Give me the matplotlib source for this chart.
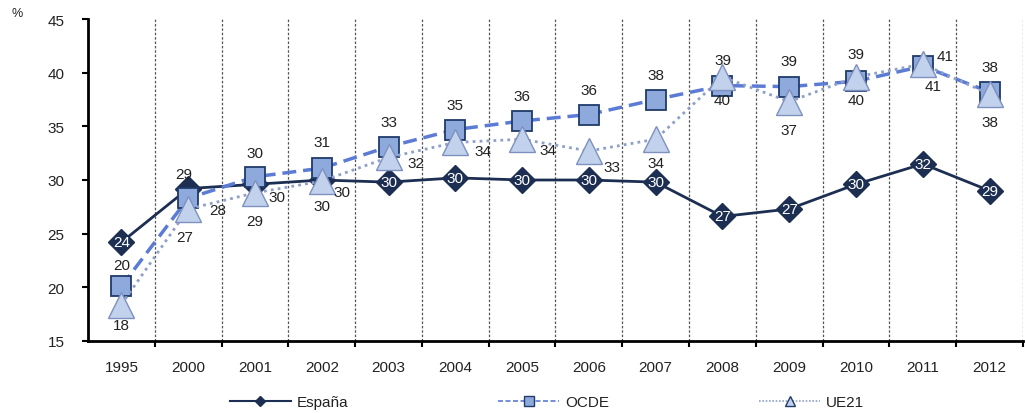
import matplotlib
matplotlib.use("Agg")
import matplotlib.pyplot as plt
from matplotlib.lines import Line2D

plt.rcParams['font.family'] = ['Liberation Sans', 'DejaVu Sans']

years = ['1995', '2000', '2001', '2002', '2003', '2004', '2005', '2006',
         '2007', '2008', '2009', '2010', '2011', '2012']
espana = [24.2, 29.2, 29.6, 30.0, 29.8, 30.2, 30.0, 30.0, 29.8, 26.6, 27.3, 29.6, 31.5, 29.0]
ocde = [20.1, 28.3, 30.3, 31.1, 33.1, 34.7, 35.5, 36.1, 37.5, 38.8, 38.7, 39.2, 40.6, 38.2]
ue21 = [18.4, 27.3, 28.8, 29.9, 32.1, 33.5, 33.8, 32.7, 33.8, 39.6, 37.3, 39.6, 40.8, 38.0]

# label offsets in pixels (dx, dy); None = centred white text inside the marker
esp_off = [None, (-4, 15), (22, -13), (20, -12), None, None, None, None,
           None, None, None, None, None, None]
ocde_off = [(0, 21), (30, -12), (0, 24), (0, 26), (0, 25), (0, 25), (0, 25), (0, 25),
            (0, 25), (0, 26), (0, 26), (0, 27), (10, -20), (0, 25)]
ue21_off = [(0, -20), (-3, -28), (0, -28), (0, -25), (27, -6), (28, -9), (26, -11), (23, -16),
            (0, -24), (0, -23), (0, -28), (0, -23), (22, 8), (0, -28)]

navy = '#1c2f52'
txt = '#222222'
fs = 11
x = list(range(len(years)))

fig = plt.figure(figsize=(10.25, 4.14), dpi=100)
ax = fig.add_axes([88 / 1025, 1 - 342 / 414, (1023 - 88) / 1025, (342 - 20) / 414])

ax.plot(x, espana, color=navy, lw=2, marker='D', ms=13, mfc=navy, mec=navy, zorder=3)
ax.plot(x, ocde, color='#5b7bd5', lw=2.5, ls=(0, (4, 2)), marker='s', ms=15,
        mfc='#8eaadc', mec='#1f3a6b', mew=1.3, zorder=4)
ax.plot(x, ue21, color='#8e9fc9', lw=2, ls=(0, (1, 1.5)), marker='^', ms=19,
        mfc='#c3d2ec', mec='#7d90bf', mew=1, zorder=5)

k = 0.72
for xi, v, off in zip(x, espana, esp_off):
    if off is None:
        ax.annotate(f'{round(v)}', (xi, v), ha='center', va='center', color='white',
                    fontsize=fs, zorder=6)
    else:
        ax.annotate(f'{round(v)}', (xi, v), xytext=(off[0] * k, off[1] * k),
                    textcoords='offset points', ha='center', va='center',
                    color=txt, fontsize=fs, zorder=6)
for series, offs in ((ocde, ocde_off), (ue21, ue21_off)):
    for xi, v, off in zip(x, series, offs):
        ax.annotate(f'{round(v)}', (xi, v), xytext=(off[0] * k, off[1] * k),
                    textcoords='offset points', ha='center', va='center',
                    color=txt, fontsize=fs, zorder=6)

ax.set_xlim(-0.5, len(years) - 0.5)
ax.set_ylim(15, 45)
ax.set_yticks(range(15, 50, 5))
ax.set_xticks(x)
ax.set_xticklabels(years)
ax.set_xticks([i + 0.5 for i in range(len(years))], minor=True)
ax.tick_params(axis='x', which='major', length=0, pad=14, labelsize=fs, labelcolor=txt)
ax.tick_params(axis='x', which='minor', length=4, width=1.5, direction='out')
ax.tick_params(axis='y', length=4, width=1.5, direction='out', pad=13, labelsize=fs,
               labelcolor=txt)
for xb in range(len(years)):
    ax.axvline(xb + 0.5, color='#555555', lw=0.9, ls=(0, (2, 1.5)), zorder=1)

for s in ('top', 'right'):
    ax.spines[s].set_visible(False)
ax.spines['left'].set_linewidth(2)
ax.spines['bottom'].set_linewidth(2)

fig.text(12 / 1025, 1 - 14 / 414, '%', fontsize=9, va='center', color=txt)

handles = [
    Line2D([], [], color=navy, lw=1.5, marker='D', ms=5, mfc=navy, mec=navy),
    Line2D([], [], color='#5b7bd5', lw=1.2, ls=(0, (3, 1.5)), marker='s', ms=7,
           mfc='#8eaadc', mec='#1f3a6b'),
    Line2D([], [], color='#8e9fc9', lw=1.2, ls=(0, (1, 1)), marker='^', ms=7,
           mfc='#c3d2ec', mec='#1f3a6b'),
]
fig.legend(handles, ['España', 'OCDE', 'UE21'], loc='center', ncol=3,
           bbox_to_anchor=(547 / 1025, 1 - 403 / 414), frameon=False, fontsize=fs,
           handlelength=4, columnspacing=9.8, handletextpad=0.4, labelcolor=txt)

fig.savefig('out.png', dpi=100)
